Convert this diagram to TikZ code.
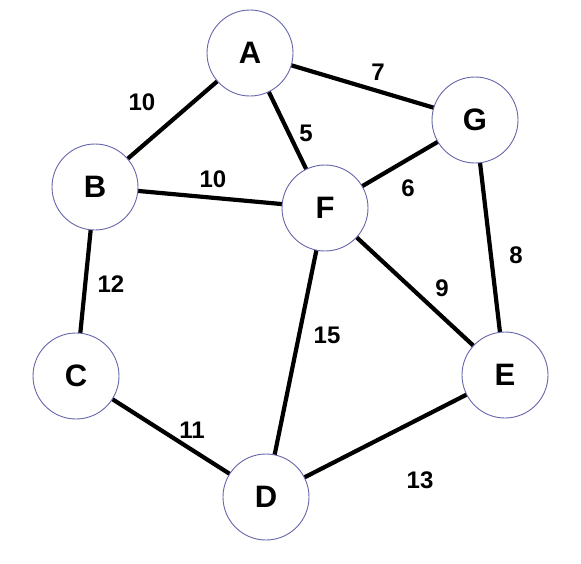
\documentclass[tikz,border=0pt]{standalone}
\usepackage{fontspec}
\setmainfont{Liberation Sans}
\usetikzlibrary{backgrounds}
\begin{document}
\begin{tikzpicture}[x=1pt,y=-1pt,
  vert/.style={circle,draw=black!55!blue!60,line width=0.9pt,fill=white,minimum size=86pt,inner sep=0pt,font=\bfseries\fontsize{31}{31}\selectfont},
  edge/.style={line width=4.2pt,black},
  wt/.style={font=\bfseries\fontsize{24}{24}\selectfont,inner sep=0pt}]
\useasboundingbox (0,0) rectangle (581,563);
\node[vert] (A) at (250,53) {A};
\node[vert] (G) at (475,120) {G};
\node[vert] (B) at (95,187) {B};
\node[vert] (F) at (325,208) {F};
\node[vert] (C) at (76,376) {C};
\node[vert] (E) at (505,375) {E};
\node[vert] (D) at (266,497) {D};
\begin{scope}[on background layer]
\draw[edge] (A.center) -- (B.center);
\draw[edge] (A.center) -- (G.center);
\draw[edge] (A.center) -- (F.center);
\draw[edge] (B.center) -- (F.center);
\draw[edge] (G.center) -- (F.center);
\draw[edge] (G.center) -- (E.center);
\draw[edge] (B.center) -- (C.center);
\draw[edge] (F.center) -- (E.center);
\draw[edge] (F.center) -- (D.center);
\draw[edge] (C.center) -- (D.center);
\draw[edge] (D.center) -- (E.center);
\end{scope}
\node[wt] (wAB) at (142,102) {10};
\node[wt] (wAG) at (378,72) {7};
\node[wt] (wAF) at (306,133) {5};
\node[wt] (wBF) at (213,179) {10};
\node[wt] (wGF) at (408,188) {6};
\node[wt] (wGE) at (516,255) {8};
\node[wt] (wBC) at (111,284) {12};
\node[wt] (wFE) at (442,288) {9};
\node[wt] (wFD) at (327,335) {15};
\node[wt] (wCD) at (192,430) {11};
\node[wt] (wDE) at (420,480) {13};
\end{tikzpicture}
\end{document}
